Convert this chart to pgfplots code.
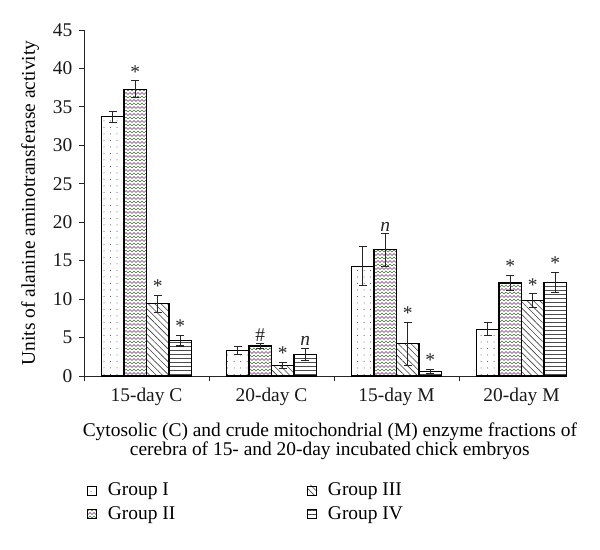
\documentclass[border=0pt]{standalone}
\usepackage{fontspec}
\setmainfont{Liberation Serif}
\usepackage{pgfplots}
\pgfplotsset{compat=1.18}
\usepackage{pgfplotstable}
\usetikzlibrary{patterns,patterns.meta}

\definecolor{zpurple}{RGB}{105,55,105}
\definecolor{zgreen}{RGB}{75,110,65}
\pgfdeclarepatterninherentlycolored{zigzagcol}{\pgfpoint{-1bp}{-1bp}}{\pgfpoint{5bp}{8bp}}{\pgfpoint{4bp}{7bp}}{%
  \pgfsetlinewidth{0.6bp}%
  \pgfsetstrokecolor{zpurple}%
  \pgfpathmoveto{\pgfpoint{0bp}{0.5bp}}\pgfpathlineto{\pgfpoint{2bp}{2.5bp}}\pgfpathlineto{\pgfpoint{4bp}{0.5bp}}\pgfusepath{stroke}%
  \pgfsetstrokecolor{zgreen}%
  \pgfpathmoveto{\pgfpoint{0bp}{4bp}}\pgfpathlineto{\pgfpoint{2bp}{6bp}}\pgfpathlineto{\pgfpoint{4bp}{4bp}}\pgfusepath{stroke}%
}

\pgfplotstableread{
x y e lab
1 33.7 0.7 {}
2 3.3 0.5 {}
3 14.3 2.5 {}
4 6.1 0.8 {}
}\gI
\pgfplotstableread{
x y e lab
1 37.3 1.1 *
2 3.9 0.3 {\#}
3 16.4 2.1 {\textit{n}}
4 12.1 1.0 *
}\gII
\pgfplotstableread{
x y e lab
1 9.4 1.1 *
2 1.4 0.4 *
3 4.2 2.8 *
4 9.8 0.9 *
}\gIII
\pgfplotstableread{
x y e lab
1 4.6 0.7 *
2 2.8 0.8 {\textit{n}}
3 0.6 0.3 *
4 12.2 1.3 *
}\gIV

\begin{document}
\fontsize{19.5}{23}\selectfont
\begin{tikzpicture}
\useasboundingbox (-84bp,-174bp) rectangle (516bp,376bp);
\begin{axis}[
  at={(0,0)}, anchor=south west,
  scale only axis, width=483bp, height=346bp,
  ybar=0pt, bar width=0.18,
  xmin=0.5, xmax=4.364, ymin=0, ymax=45,
  axis x line*=bottom, axis y line*=left,
  axis line style={line width=0.8bp, black!85},
  every tick/.style={line width=0.8bp, black!85},
  tick align=outside, major tick length=5bp,
  xtick={0.5,1.5,2.5,3.5}, xticklabels={},
  extra x ticks={1,2,3,4},
  extra x tick labels={15-day C,20-day C,15-day M,20-day M},
  extra x tick style={major tick length=0pt},
  ytick distance=5,
  /pgf/number format/assume math mode=true,
  ticklabel style={font=\fontsize{19.5}{22}\selectfont, text=black!90},
  xticklabel style={yshift=-5bp},
  ylabel={Units of alanine aminotransferase activity},
  every axis y label/.style={at={(axis description cs:-0.079,0.5)}, rotate=90, anchor=south, font=\fontsize{19.5}{22}\selectfont},
  xlabel={Cytosolic (C) and crude mitochondrial (M) enzyme fractions of\\cerebra of 15- and 20-day incubated chick embryos},
  every axis x label/.style={at={(axis description cs:0.509,-0.116)}, anchor=north, align=center, font=\fontsize{19.5}{17}\selectfont},
  legend columns=2, transpose legend,
  legend style={at={(axis description cs:0.0,-0.296)}, anchor=north west, draw=none, font=\fontsize{19.5}{22}\selectfont,
    /tikz/every odd column/.append style={column sep=9bp},
    /tikz/every even column/.append style={column sep=130bp}, row sep=4bp},
  legend cell align=left,
  legend image code/.code={\draw[#1, draw=black, line width=0.7bp] (0bp,-4.5bp) rectangle (9bp,4.5bp);},
  every axis plot/.append style={draw=black, line width=1.1bp},
  error bars/y dir=both, error bars/y explicit,
  error bars/error bar style={line width=1.1bp, black!85, solid},
  error bars/error mark options={rotate=90, mark size=4bp, line width=1.1bp, black!85},
  point meta=explicit symbolic,
  nodes near coords={\pgfplotspointmeta},
  visualization depends on={\thisrow{e} \as \ev},
  nodes near coords style={anchor=south, yshift=\ev*7.689bp, inner sep=2bp, font=\fontsize{19.5}{20}\selectfont, text=black!85},
]
\addplot[fill=white, postaction={pattern={Dots[distance=6.5bp, radius=0.5bp]}, pattern color=black!75}]
  table[x=x, y=y, y error=e, meta=lab] {\gI};
\addlegendentry{Group I}
\addplot[fill=white, postaction={pattern=zigzagcol}]
  table[x=x, y=y, y error=e, meta=lab] {\gII};
\addlegendentry{Group II}
\addplot[fill=white, postaction={pattern={Lines[angle=-45, distance=4.5bp, line width=0.6bp]}, pattern color=black!75}]
  table[x=x, y=y, y error=e, meta=lab] {\gIII};
\addlegendentry{Group III}
\addplot[fill=white, postaction={pattern={Lines[angle=0, distance=4bp, line width=0.6bp]}, pattern color=black!70}]
  table[x=x, y=y, y error=e, meta=lab] {\gIV};
\addlegendentry{Group IV}
\end{axis}
\end{tikzpicture}
\end{document}
